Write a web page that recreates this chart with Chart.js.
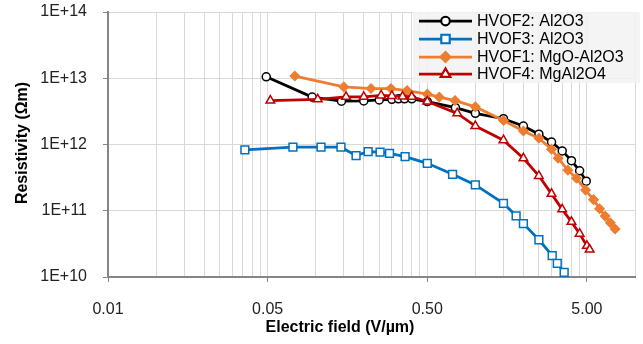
<!DOCTYPE html>
<html>
<head>
<meta charset="utf-8">
<script src="https://cdn.jsdelivr.net/npm/chart.js@4/dist/chart.umd.min.js"></script>
<style>
  html, body { margin: 0; padding: 0; background: #fff; }
  #chart { display: block; }
</style>
</head>
<body>
<canvas id="chart" width="643" height="344"></canvas>
<script>
// HVOF2: Al2O3
const fieldHvof2 = [0.049, 0.095, 0.145, 0.2, 0.25, 0.3, 0.33, 0.36, 0.4, 0.5, 0.75, 1.0, 1.5, 2.0, 2.5, 3.0, 3.5, 4.0, 4.5, 4.95];
const resHvof2 = [1.05e13, 5.2e12, 4.5e12, 4.55e12, 4.7e12, 4.8e12, 4.9e12, 4.9e12, 4.9e12, 4.45e12, 3.6e12, 2.95e12, 2.45e12, 1.9e12, 1.43e12, 1.09e12, 8.0e11, 5.7e11, 4.0e11, 2.8e11];
// HVOF3: Al2O3
const fieldHvof3 = [0.036, 0.072, 0.108, 0.144, 0.179, 0.213, 0.253, 0.29, 0.363, 0.5, 0.72, 1.0, 1.5, 1.8, 2.0, 2.5, 3.03, 3.26, 3.6];
const resHvof3 = [8.3e11, 9.1e11, 9.1e11, 9.1e11, 6.8e11, 7.8e11, 7.7e11, 7.35e11, 6.55e11, 5.2e11, 3.55e11, 2.45e11, 1.29e11, 8.4e10, 6.4e10, 3.65e10, 2.1e10, 1.6e10, 1.17e10];
// HVOF1: MgO-Al2O3
const fieldHvof1 = [0.074, 0.15, 0.222, 0.296, 0.374, 0.5, 0.594, 0.746, 1.0, 1.5, 2.0, 2.5, 3.0, 3.3, 3.8, 4.3, 4.9, 5.5, 6.0, 6.5, 7.0, 7.5];
const resHvof1 = [1.08e13, 7.4e12, 7.0e12, 7.0e12, 6.5e12, 5.75e12, 5.2e12, 4.6e12, 3.7e12, 2.3e12, 1.6e12, 1.24e12, 8.5e11, 6.2e11, 4.1e11, 3.1e11, 2.05e11, 1.47e11, 1.07e11, 8.3e10, 6.6e10, 5.3e10];
// HVOF4: MgAl2O4
const fieldHvof4 = [0.052, 0.103, 0.155, 0.2, 0.257, 0.3, 0.35, 0.4, 0.5, 0.77, 1.0, 1.5, 2.0, 2.5, 3.0, 3.5, 4.0, 4.5, 5.0, 5.2];
const resHvof4 = [4.6e12, 4.8e12, 5.25e12, 5.25e12, 5.5e12, 5.4e12, 5.3e12, 5.25e12, 4.45e12, 2.95e12, 1.9e12, 1.16e12, 6.2e11, 3.35e11, 1.8e11, 1.05e11, 6.8e10, 4.5e10, 2.95e10, 2.6e10];

const seriesNames = ['HVOF2: Al2O3', 'HVOF3: Al2O3', 'HVOF1: MgO-Al2O3', 'HVOF4: MgAl2O4'];

// axes: Excel log axis starting at 0.005, labels rounded to 2 decimals
const xLabelValues = [0.005, 0.05, 0.5, 5];
const xTickLabels = ['0.01', '0.05', '0.50', '5.00'];
const xMin = 0.005, xMax = 10;
const yTickValues = [1e10, 1e11, 1e12, 1e13, 1e14];
const yTickLabels = ['1E+10', '1E+11', '1E+12', '1E+13', '1E+14'];

// gridlines at every 1..9 multiple of each decade
const xGridValues = [];
xLabelValues.forEach(d => {
  for (let k = 1; k <= 9; k++) {
    const v = +(d * k).toPrecision(6);
    if (v <= xMax) xGridValues.push(v);
  }
});

function pts(xs, ys) {
  return xs.map((x, i) => ({ x: x, y: ys[i] }));
}

const styles = [
  { color: '#000000', shape: 'circle', radius: 4, fill: '#ffffff' },
  { color: '#0070C0', shape: 'rect', radius: 5.5, fill: '#ffffff' },
  { color: '#ED7D31', shape: 'rectRot', radius: 4.5, fill: '#ED7D31' },
  { color: '#C00000', shape: 'triangle', radius: 5, fill: '#ffffff' }
];
const seriesData = [
  pts(fieldHvof2, resHvof2),
  pts(fieldHvof3, resHvof3),
  pts(fieldHvof1, resHvof1),
  pts(fieldHvof4, resHvof4)
];

const datasets = seriesData.map((d, i) => ({
  label: seriesNames[i],
  data: d,
  borderColor: styles[i].color,
  backgroundColor: styles[i].fill,
  borderWidth: 2.75,
  pointStyle: styles[i].shape,
  pointRadius: styles[i].radius,
  pointBorderWidth: 1.5,
  pointBorderColor: styles[i].color,
  pointBackgroundColor: styles[i].fill,
  tension: 0,
  order: 4 - i
}));

const font = "'Liberation Sans', Arial, sans-serif";

// no extra padding from tick labels, so the plot area stays where Excel put it
function noPad(s) {
  s.paddingTop = 0;
  s.paddingBottom = 0;
  s.paddingLeft = 0;
  s.paddingRight = 0;
}

// axis titles and the legend box, drawn in Excel's spots
const overlayPlugin = {
  id: 'overlay',
  afterDraw(chart) {
    const ctx = chart.ctx;
    ctx.save();
    ctx.fillStyle = '#000';
    ctx.font = 'bold 16px ' + font;
    ctx.textAlign = 'center';
    ctx.textBaseline = 'middle';
    ctx.fillText('Electric field (V/\u00b5m)', 340, 328);
    ctx.translate(23, 143);
    ctx.rotate(-Math.PI / 2);
    ctx.fillText('Resistivity (\u03a9m)', 0, 0);
    ctx.restore();

    // legend
    ctx.save();
    ctx.fillStyle = 'rgba(242,242,242,0.85)';
    ctx.fillRect(413, 12, 227, 71);
    const rowY = [21, 39, 57, 74];
    ctx.font = '16px ' + font;
    ctx.textAlign = 'left';
    ctx.textBaseline = 'middle';
    styles.forEach((s, i) => {
      const y = rowY[i];
      ctx.strokeStyle = s.color;
      ctx.lineWidth = 2.75;
      ctx.beginPath();
      ctx.moveTo(419, y);
      ctx.lineTo(472, y);
      ctx.stroke();
      Chart.helpers.drawPoint(ctx, {
        pointStyle: s.shape, radius: s.radius, borderWidth: 1.5, rotation: 0
      }, 445.5, y);
      ctx.fillStyle = s.fill;
      ctx.fill();
      ctx.lineWidth = 1.5;
      ctx.stroke();
      ctx.fillStyle = '#000';
      ctx.fillText(seriesNames[i], 477, y + 1);
    });
    ctx.restore();
  }
};

new Chart(document.getElementById('chart'), {
  type: 'line',
  data: { datasets: datasets },
  plugins: [overlayPlugin],
  options: {
    responsive: false,
    devicePixelRatio: 1,
    animation: false,
    layout: { padding: { top: 12, right: 8, left: 0, bottom: 0 } },
    plugins: { legend: { display: false }, tooltip: { enabled: false } },
    scales: {
      x: {
        type: 'logarithmic',
        min: xMin,
        max: xMax,
        afterBuildTicks: s => {
          s.ticks = xGridValues.map(v => ({ value: v, major: xLabelValues.includes(v) }));
        },
        afterFit: s => { s.height = 67; noPad(s); },
        ticks: {
          autoSkip: false,
          maxRotation: 0,
          minRotation: 0,
          padding: 18,
          color: '#222',
          font: { family: font, size: 16 },
          callback: (v) => {
            const k = xLabelValues.indexOf(v);
            return k >= 0 ? xTickLabels[k] : '';
          }
        },
        grid: {
          color: '#d9d9d9',
          lineWidth: 1,
          tickLength: 5,
          tickColor: c => (c.tick && xLabelValues.includes(c.tick.value)) ? '#868686' : 'rgba(0,0,0,0)'
        },
        border: { color: '#868686', width: 2 }
      },
      y: {
        type: 'logarithmic',
        min: 1e10,
        max: 1e14,
        afterBuildTicks: s => {
          s.ticks = yTickValues.map(v => ({ value: v }));
        },
        afterFit: s => { s.width = 108; noPad(s); },
        ticks: {
          padding: 16,
          color: '#222',
          font: { family: font, size: 16 },
          callback: (v) => {
            const k = yTickValues.indexOf(v);
            return k >= 0 ? yTickLabels[k] : '';
          }
        },
        grid: { color: '#d9d9d9', lineWidth: 1, tickLength: 5, tickColor: '#868686' },
        border: { color: '#868686', width: 2 }
      }
    }
  }
});
</script>
</body>
</html>
